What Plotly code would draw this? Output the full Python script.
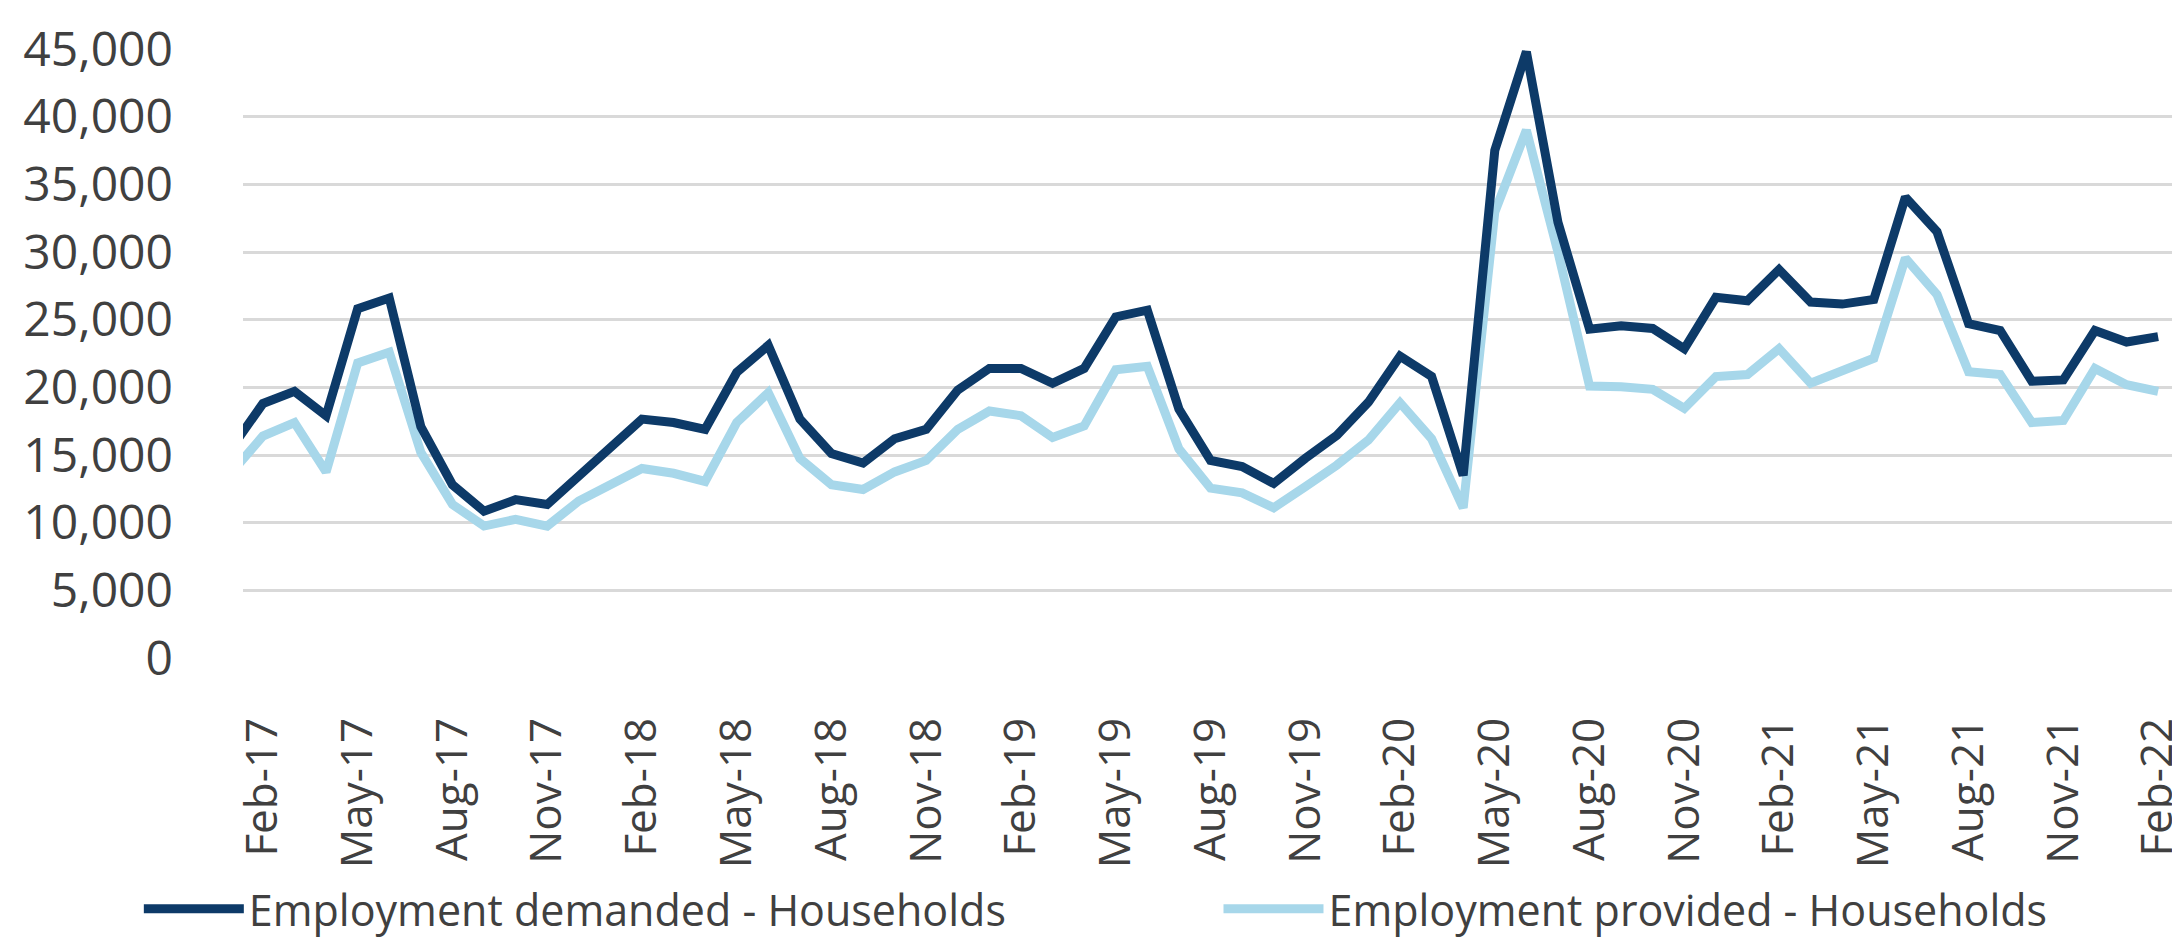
import plotly.graph_objects as go

months = ["Jan-17", "Feb-17", "Mar-17", "Apr-17", "May-17", "Jun-17", "Jul-17", "Aug-17", "Sep-17", "Oct-17", "Nov-17", "Dec-17",
          "Jan-18", "Feb-18", "Mar-18", "Apr-18", "May-18", "Jun-18", "Jul-18", "Aug-18", "Sep-18", "Oct-18", "Nov-18", "Dec-18",
          "Jan-19", "Feb-19", "Mar-19", "Apr-19", "May-19", "Jun-19", "Jul-19", "Aug-19", "Sep-19", "Oct-19", "Nov-19", "Dec-19",
          "Jan-20", "Feb-20", "Mar-20", "Apr-20", "May-20", "Jun-20", "Jul-20", "Aug-20", "Sep-20", "Oct-20", "Nov-20", "Dec-20",
          "Jan-21", "Feb-21", "Mar-21", "Apr-21", "May-21", "Jun-21", "Jul-21", "Aug-21", "Sep-21", "Oct-21", "Nov-21", "Dec-21",
          "Jan-22", "Feb-22"]

demanded = [15500, 18800, 19700, 17900, 25800, 26600, 17100, 12800, 10850, 11700, 11340, 13500,
            15700, 17650, 17400, 16900, 21100, 23100, 17650, 15100, 14400, 16200, 16900, 19800,
            21400, 21400, 20300, 21400, 25200, 25700, 18400, 14600, 14150, 12900, 14750, 16450,
            18900, 22300, 20800, 13500, 37500, 44800, 32200, 24300, 24550, 24350, 22850, 26650,
            26400, 28700, 26300, 26150, 26500, 34050, 31500, 24700, 24200, 20450, 20550, 24200,
            23350, 23750]

provided = [13700, 16400, 17400, 13750, 21800, 22600, 15200, 11350, 9750, 10250, 9750, 11600,
            12800, 14000, 13650, 13050, 17400, 19600, 14750, 12800, 12450, 13750, 14600, 16900,
            18250, 17900, 16300, 17150, 21300, 21550, 15450, 12550, 12200, 11100, 12650, 14250,
            16100, 18850, 16200, 11100, 32950, 39000, 30000, 20100, 20050, 19850, 18450, 20800,
            20950, 22850, 20300, 21150, 22150, 29550, 26850, 21150, 20950, 17400, 17550, 21400,
            20200, 19700]

tick_labels = ["Feb-17", "May-17", "Aug-17", "Nov-17", "Feb-18", "May-18", "Aug-18", "Nov-18",
               "Feb-19", "May-19", "Aug-19", "Nov-19", "Feb-20", "May-20", "Aug-20", "Nov-20",
               "Feb-21", "May-21", "Aug-21", "Nov-21", "Feb-22"]

y_ticks = list(range(0, 45001, 5000))

DARK = "#0d3a68"
LIGHT = "#a7d7ea"
FONT = "Open Sans, Noto Sans, sans-serif"

fig = go.Figure()
# light series first so the dark line is drawn on top
fig.add_trace(go.Scatter(x=months, y=provided, mode="lines", name="Employment provided - Households",
                         line=dict(color=LIGHT, width=9), legend="legend2"))
fig.add_trace(go.Scatter(x=months, y=demanded, mode="lines", name="Employment demanded - Households",
                         line=dict(color=DARK, width=9), legend="legend"))

legend_common = dict(orientation="h", y=-0.412, yanchor="middle", xanchor="left",
                     font=dict(size=43, color="#404040"), itemwidth=100,
                     bgcolor="rgba(0,0,0,0)")

fig.update_layout(
    width=2180, height=938,
    margin=dict(l=235, r=3, t=41, b=279),
    plot_bgcolor="white", paper_bgcolor="white",
    font=dict(family=FONT, color="#404040", size=44),
    showlegend=True,
    legend=dict(x=-0.054, **legend_common),
    legend2=dict(x=0.5057, **legend_common),
)

fig.update_xaxes(type="category", categoryorder="array", categoryarray=months,
                 range=[0.37, 61.44], tickmode="array", tickvals=tick_labels, ticktext=tick_labels,
                 tickangle=-90, showgrid=False, zeroline=False, showline=False, ticks="",
                 ticklabelstandoff=50, tickfont=dict(size=44, color="#404040"))
fig.update_yaxes(range=[0, 45000], tickmode="array", tickvals=y_ticks, tickformat=",",
                 showgrid=True, gridcolor="#d9d9d9", gridwidth=3, zeroline=False, showline=False,
                 ticks="", ticklabelstandoff=69, tickfont=dict(size=48, color="#404040"))

fig.write_html("out.html")
